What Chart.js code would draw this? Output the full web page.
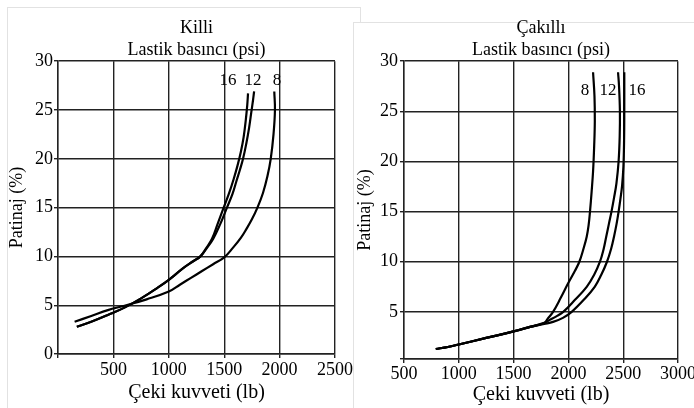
<!DOCTYPE html>
<html>
<head>
<meta charset="utf-8">
<script src="https://cdn.jsdelivr.net/npm/chart.js@4.4.0/dist/chart.umd.min.js"></script>
<style>
  body { margin: 0; width: 694px; height: 408px; overflow: hidden; background: #fff; position: relative; }
  .panel { position: absolute; border: 1px solid #e2e2e2; background: #fff; }
  canvas { position: absolute; top: 0; }
</style>
</head>
<body>
<div class="panel" style="left:7px;top:7px;width:352px;height:420px"></div>
<canvas id="killi" width="353" height="408" style="left:0"></canvas>
<div class="panel" style="left:353px;top:22px;width:360px;height:420px"></div>
<canvas id="cakilli" width="341" height="408" style="left:353px"></canvas>
<script>
// Killi (clay) - pull force (lb) vs slip (%)
const killiX8  = [150, 300, 450, 600, 800, 1000, 1100, 1200, 1300, 1400, 1500, 1580, 1650, 1700, 1750, 1800, 1850, 1890, 1920, 1945, 1958, 1952];
const killiY8  = [3.3, 3.9, 4.5, 4.95, 5.6, 6.4, 7.1, 7.8, 8.5, 9.2, 9.9, 10.9, 11.9, 12.8, 13.8, 15, 16.5, 18.2, 20, 22.5, 25, 26.9];
const killiX12 = [170, 300, 450, 600, 750, 900, 1000, 1130, 1220, 1285, 1340, 1400, 1460, 1525, 1575, 1610, 1640, 1670, 1700, 1725, 1745, 1760, 1770];
const killiY12 = [2.8, 3.3, 4.0, 4.75, 5.7, 6.8, 7.6, 8.8, 9.5, 10, 10.8, 11.8, 13.2, 15, 16.4, 17.7, 18.8, 20, 21.6, 23.2, 24.8, 26, 26.9];
const killiX16 = [170, 300, 450, 600, 750, 900, 1000, 1130, 1220, 1285, 1335, 1390, 1440, 1495, 1545, 1585, 1620, 1650, 1675, 1695, 1708, 1715];
const killiY16 = [2.8, 3.3, 4.0, 4.75, 5.7, 6.8, 7.6, 8.8, 9.5, 10, 10.8, 11.8, 13.3, 15, 16.5, 17.9, 19.3, 20.7, 22.2, 24, 25.5, 26.7];

// Cakilli (gravel)
const cakX8  = [790, 900, 1000, 1250, 1500, 1650, 1780, 1810, 1860, 1930, 2000, 2060, 2100, 2135, 2167, 2185, 2197, 2212, 2225, 2235, 2241, 2238, 2225];
const cakY8  = [1.3, 1.5, 1.75, 2.4, 3.05, 3.5, 3.9, 4.3, 5, 6.4, 7.9, 9.1, 10, 11.2, 12.5, 13.7, 15, 17, 19, 21.5, 24, 26.5, 28.9];
const cakX12 = [790, 900, 1000, 1250, 1500, 1650, 1780, 1830, 1890, 1953, 2060, 2167, 2235, 2288, 2320, 2345, 2370, 2393, 2415, 2438, 2458, 2468, 2470, 2462, 2453];
const cakY12 = [1.3, 1.5, 1.75, 2.4, 3.05, 3.5, 3.9, 4.2, 4.55, 5, 6.2, 7.5, 8.7, 10, 11.2, 12.5, 13.8, 15, 16.3, 17.8, 20, 22.5, 25, 27.5, 28.9];
const cakX16 = [790, 900, 1000, 1250, 1500, 1650, 1780, 1860, 1950, 2030, 2140, 2240, 2300, 2352, 2390, 2416, 2440, 2458, 2475, 2490, 2502, 2508, 2510, 2510];
const cakY16 = [1.3, 1.5, 1.75, 2.4, 3.05, 3.5, 3.8, 4.0, 4.4, 5, 6.2, 7.5, 8.7, 10, 11.3, 12.5, 13.8, 15, 16.3, 17.6, 19.5, 22, 25, 28.9];

// curve labels (tire pressure, psi), placed in data units
const pressures = ['8', '12', '16'];
const killiLabelX = [1976, 1760, 1534];
const killiLabelY = [28.05, 28.05, 28.05];
const cakLabelX = [2151, 2361, 2626];
const cakLabelY = [27.1, 27.1, 27.1];

const FONT = '"Liberation Serif", "Times New Roman", serif';

function pts(xs, ys) {
  return xs.map((v, i) => ({ x: v, y: ys[i] }));
}

const curveLabels = {
  id: 'curveLabels',
  afterDatasetsDraw(chart, args, opts) {
    const { ctx, scales } = chart;
    ctx.save();
    ctx.font = '17px ' + FONT;
    ctx.fillStyle = '#000';
    ctx.textAlign = 'center';
    ctx.textBaseline = 'middle';
    opts.names.forEach((n, i) => {
      ctx.fillText(n, scales.x.getPixelForValue(opts.xs[i]), scales.y.getPixelForValue(opts.ys[i]));
    });
    ctx.restore();
  }
};

function line(data) {
  return { data: data, showLine: true, borderColor: '#000', borderWidth: 2.2, pointRadius: 0, fill: false, tension: 0.4 };
}

function makeChart(id, cfg) {
  return new Chart(document.getElementById(id), {
    type: 'scatter',
    data: { datasets: cfg.series.map(s => line(s)) },
    options: {
      responsive: false,
      animation: false,
      devicePixelRatio: 1,
      events: [],
      layout: { padding: { left: 0, right: cfg.padRight, top: 0, bottom: 0 } },
      plugins: {
        legend: { display: false },
        tooltip: { enabled: false },
        title: {
          display: true, text: cfg.title, color: '#000', fullSize: false,
          font: { family: FONT, size: 18, weight: 'normal' },
          padding: { top: 17, bottom: 1 }
        },
        subtitle: {
          display: true, text: 'Lastik basıncı (psi)', color: '#000', fullSize: false,
          font: { family: FONT, size: 18, weight: 'normal' },
          padding: { top: 0, bottom: 0 }
        },
        curveLabels: { names: pressures, xs: cfg.labelX, ys: cfg.labelY }
      },
      scales: {
        x: {
          type: 'linear', min: cfg.xMin, max: cfg.xMax,
          ticks: {
            stepSize: 500, color: '#000', padding: cfg.xTickPad,
            font: { family: FONT, size: 18 },
            maxRotation: 0,
            callback: v => (v === 0 ? '' : v)
          },
          grid: { color: '#222', lineWidth: 1.4, tickLength: 4 },
          border: { color: '#222', width: 1.4 },
          title: {
            display: true, text: 'Çeki kuvveti (lb)', color: '#000',
            font: { family: FONT, size: 20 }, padding: { top: 0, bottom: cfg.xTitlePad }
          },
          afterFit: s => { s.height = cfg.xHeight; s.paddingLeft = 0; s.paddingRight = 0; }
        },
        y: {
          type: 'linear', min: cfg.yMin, max: 30,
          ticks: {
            stepSize: 5, color: '#000', padding: cfg.yTickPad,
            font: { family: FONT, size: 18 },
            callback: v => (v % 5 === 0 ? v : '')
          },
          grid: { color: '#222', lineWidth: 1.4, tickLength: 4 },
          border: { color: '#222', width: 1.4 },
          title: {
            display: true, text: 'Patinaj (%)', color: '#000',
            font: { family: FONT, size: 18 }, padding: { top: cfg.yTitlePad, bottom: 0 }
          },
          afterFit: s => { s.width = cfg.yWidth; s.paddingTop = 0; s.paddingBottom = 0; }
        }
      }
    },
    plugins: [curveLabels]
  });
}

makeChart('killi', {
  title: 'Killi',
  series: [pts(killiX8, killiY8), pts(killiX12, killiY12), pts(killiX16, killiY16)],
  labelX: killiLabelX, labelY: killiLabelY,
  xMin: 0, xMax: 2500, yMin: 0,
  padRight: 18, xHeight: 54, yWidth: 58,
  xTickPad: 1, xTitlePad: 3, yTickPad: 1, yTitlePad: 6
});

makeChart('cakilli', {
  title: 'Çakıllı',
  series: [pts(cakX8, cakY8), pts(cakX12, cakY12), pts(cakX16, cakY16)],
  labelX: cakLabelX, labelY: cakLabelY,
  xMin: 500, xMax: 3000, yMin: 0.3,
  padRight: 16, xHeight: 49, yWidth: 51,
  xTickPad: 0, xTitlePad: 1, yTickPad: 2, yTitlePad: 1.2
});
</script>
</body>
</html>
